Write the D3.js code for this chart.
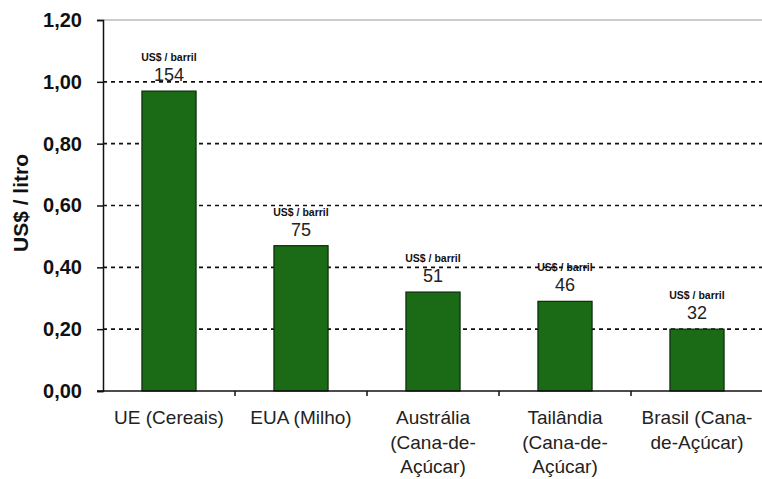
<!DOCTYPE html>
<html><head><meta charset="utf-8">
<script src="https://cdn.jsdelivr.net/npm/d3@7"></script>
<style>body{margin:0;background:#fff}svg{display:block}</style>
</head><body>
<svg id="c" width="762" height="479"></svg>
<script>
const categories = [["UE (Cereais)"],["EUA (Milho)"],["Austrália","(Cana-de-","Açúcar)"],["Tailândia","(Cana-de-","Açúcar)"],["Brasil (Cana-","de-Açúcar)"]];
const litroValues = [0.97, 0.47, 0.32, 0.29, 0.20];
const barrilValues = ["154","75","51","46","32"];
const barrilUnit = "US$ / barril";
const yTicks = [0, 0.2, 0.4, 0.6, 0.8, 1.0, 1.2];
const yTitle = "US$ / litro";

const svg = d3.select("#c");
const pLeft = 103, pRight = 763, pTop = 20, pBottom = 391;
const ids = categories.map((d,i)=>i);
const x = d3.scaleBand().domain(ids).range([pLeft, pRight]).paddingInner(0.59).paddingOuter(0.295);
const y = d3.scaleLinear().domain([0, 1.2]).range([pBottom, pTop]);
const fmt = v => d3.format(".2f")(v).replace(".", ",");
const FF = "Liberation Sans, Arial, sans-serif";

// top border
svg.append("line").attr("x1", pLeft).attr("x2", 762).attr("y1", y(1.2)).attr("y2", y(1.2))
  .attr("stroke", "#bbb").attr("stroke-width", 1.5);
// gridlines
svg.append("g").selectAll("line").data(yTicks.filter(t => t > 0 && t < 1.2)).join("line")
  .attr("x1", pLeft).attr("x2", 762).attr("y1", d => y(d)).attr("y2", d => y(d))
  .attr("stroke", "#111").attr("stroke-width", 1.6).attr("stroke-dasharray", "4,4");

// bars
svg.append("g").selectAll("rect").data(litroValues).join("rect")
  .attr("x", (d,i) => x(i)).attr("width", x.bandwidth())
  .attr("y", d => y(d)).attr("height", d => y(0) - y(d))
  .attr("fill", "#1b6b16").attr("stroke", "#0c2a08").attr("stroke-width", 1.2);

// value labels
const lab = svg.append("g");
litroValues.forEach((v,i) => {
  const cx = x(i) + x.bandwidth()/2;
  lab.append("text").attr("x", cx).attr("y", y(v) - 30).attr("text-anchor","middle")
    .attr("font-family",FF).attr("font-size", 10.5).attr("font-weight","bold")
    .attr("fill","#111").text(barrilUnit);
  lab.append("text").attr("x", cx).attr("y", y(v) - 10).attr("text-anchor","middle")
    .attr("font-family",FF).attr("font-size", 18)
    .attr("fill","#222").text(barrilValues[i]);
});

// y axis
const ya = svg.append("g").attr("transform", `translate(${pLeft},0)`)
  .call(d3.axisLeft(y).tickValues(yTicks).tickFormat(fmt).tickSize(6).tickPadding(15));
ya.select(".domain").attr("stroke","#111").attr("stroke-width",1.5);
ya.selectAll(".tick line").attr("stroke","#111").attr("stroke-width",1.5);
ya.selectAll(".tick text").attr("font-family",FF)
  .attr("font-size",20).attr("font-weight","bold").attr("fill","#111");

// x axis
svg.append("line").attr("x1", pLeft - 6).attr("x2", 762).attr("y1", pBottom).attr("y2", pBottom)
  .attr("stroke","#111").attr("stroke-width",1.5);
const bounds = ids.slice(1).map(i => x(i) - x.step()*x.paddingInner()/2);
svg.append("g").selectAll("line").data(bounds).join("line")
  .attr("x1", d=>d).attr("x2", d=>d).attr("y1", pBottom).attr("y2", pBottom + 5)
  .attr("stroke","#111").attr("stroke-width",1.5);

// category labels
categories.forEach((lines,i) => {
  const cx = x(i) + x.bandwidth()/2;
  const t = svg.append("text").attr("x", cx).attr("y", 424)
    .attr("text-anchor","middle").attr("font-family",FF)
    .attr("font-size",19).attr("fill","#222");
  lines.forEach((l,j) => t.append("tspan").attr("x", cx).attr("dy", j ? 24.5 : 0).text(l));
});

// y title
svg.append("text").attr("transform","translate(28,203) rotate(-90)").attr("text-anchor","middle")
  .attr("font-family",FF).attr("font-size",21).attr("font-weight","bold")
  .attr("fill","#111").text(yTitle);
</script>
</body></html>
